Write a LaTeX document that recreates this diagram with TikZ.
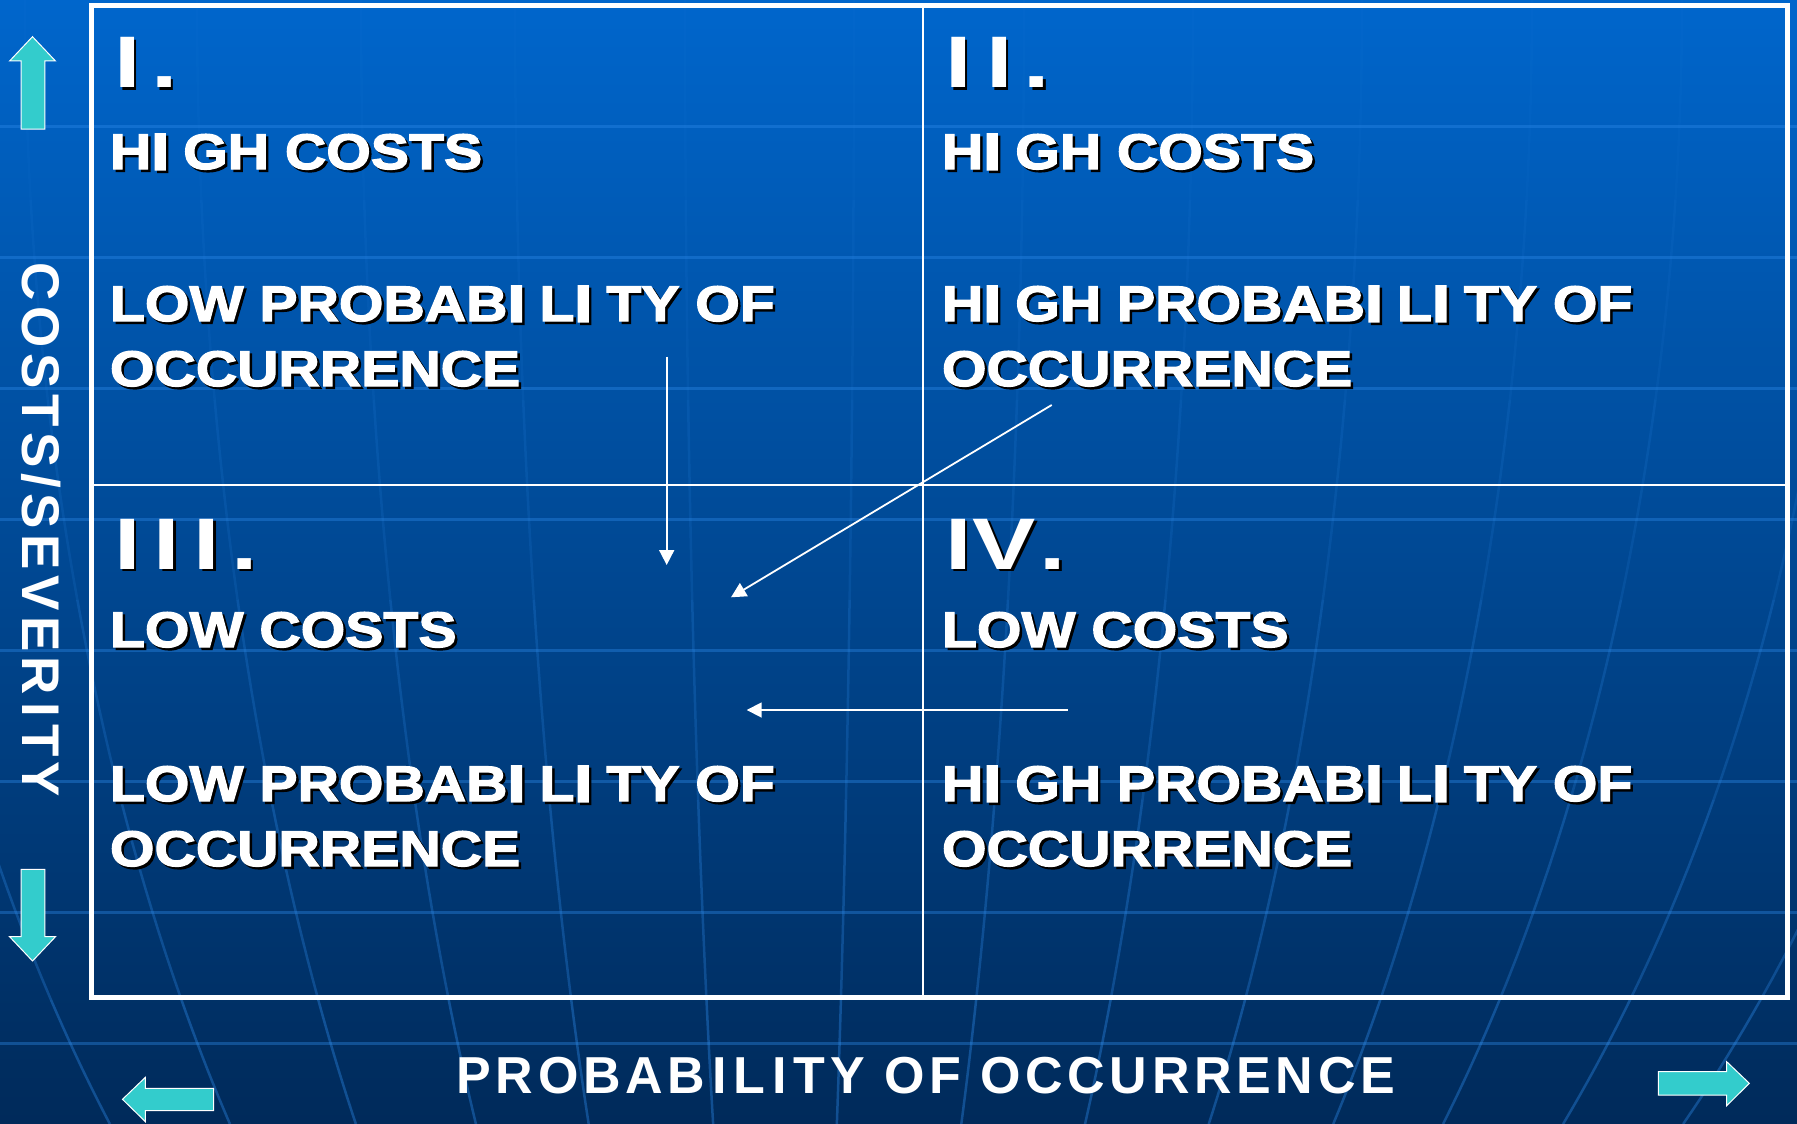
\documentclass[tikz,border=0pt]{standalone}
\usepackage{fontspec}
\usetikzlibrary{arrows.meta}
\newfontfamily\bodyfont{Liberation Sans}[UprightFont=* Bold, FakeStretch=1.145, FakeBold=2.5]
\newfontfamily\fatIfont{Liberation Sans}[UprightFont=* Bold, FakeStretch=1.145, FakeBold=6]
\newfontfamily\numfont{Liberation Sans}[UprightFont=* Bold, FakeStretch=1.3]
\newfontfamily\axisfont{Liberation Sans}[UprightFont=* Bold, LetterSpace=9]
\newfontfamily\axisfontv{Liberation Sans}[UprightFont=* Bold, LetterSpace=10.5]
\definecolor{bgtop}{HTML}{0066CC}
\definecolor{bgbottom}{HTML}{002A5A}
\definecolor{gridblue}{HTML}{2E8BEA}
\definecolor{arrowcyan}{HTML}{33CCCC}
\newcommand\bI{\kern 1pt{\fatIfont I}\kern 15pt\relax}
\newcommand\aI{\kern 7pt I\kern 7pt\relax}
\newcommand\shadowtext[5]{%
  \node[#1, text=black] (#2s) at (#3+2.5,#4+2.5) {#5};
  \node[#1] (#2) at (#3,#4) {#5};}
\tikzset{
  txt/.style={anchor=base west, inner sep=0pt, outer sep=0pt, text=white},
  body/.style={txt, font=\bodyfont\fontsize{50}{60}\selectfont},
  num/.style={txt, font=\numfont\fontsize{73}{80}\selectfont},
  axis/.style={anchor=base, inner sep=0pt, outer sep=0pt, text=white},
  thinarrow/.style={draw=white, line width=1.8pt, -{Triangle[length=15pt,width=15pt]}},
  blockarrow/.style={fill=arrowcyan, draw=white, line width=1pt, line join=miter},
  gridline/.style={draw=gridblue, line width=3pt, opacity=0.38},
  meridian/.style={draw=gridblue, line width=2.5pt},
  frame/.style={draw=white, line width=5pt},
  divider/.style={draw=white, line width=2pt},
}
\begin{document}
\begin{tikzpicture}[x=1pt,y=-1pt]
\useasboundingbox (0,0) rectangle (1797,1124);
\begin{scope}
\clip (0,0) rectangle (1797,1124);
\shade[top color=bgtop, bottom color=bgbottom] (0,0) rectangle (1797,1124);
% horizontal grid lines
\foreach \gy in {126.7,257.7,388.7,519.7,650.7,781.7,912.7,1043.7}
  \draw[gridline] (0,\gy) -- (1797,\gy);
% meridians of the globe
\foreach \o in {-929,-765,-593,-429,-275,-105,64,234,403,572,742,892,1056,1220} {
  \foreach \ya/\yb/\op in {0/200/0.05,200/400/0.09,400/600/0.15,600/800/0.23,800/1000/0.31,1000/1124/0.38} {
    \draw[meridian, opacity=\op] plot[domain=\ya:\yb, samples=10, variable=\t]
      ({790+\o*sqrt(1-(\t/1650)^2)}, {\t});
  }
}
\end{scope}
% frame and dividers
\draw[frame] (91,6) rectangle (1787.5,997.5);
\coordinate (vtop) at (922.7,6);
\coordinate (vbot) at (922.7,997.5);
\coordinate (hleft) at (91,485);
\coordinate (hright) at (1787.5,485);
\draw[divider] (vtop) -- (vbot);
\draw[divider] (hleft) -- (hright);
% thin arrows
\coordinate (a1s) at (666.7,356.7);
\coordinate (a1e) at (666.7,565);
\coordinate (a2s) at (1051.7,405);
\coordinate (a2e) at (731,597.3);
\coordinate (a3s) at (1067.7,710);
\coordinate (a3e) at (746.7,710);
\draw[thinarrow] (a1s) -- (a1e);
\draw[thinarrow] (a2s) -- (a2e);
\draw[thinarrow] (a3s) -- (a3e);
% quadrant I
\shadowtext{num}{n1}{114}{88}{I\kern 11pt.}
\shadowtext{body}{q1a}{110}{169}{H\bI GH COSTS}
\shadowtext{body}{q1b}{110}{321}{LOW PROBAB\bI L\bI TY OF}
\shadowtext{body}{q1c}{110}{386}{OCCURRENCE}
% quadrant II
\shadowtext{num}{n2}{945}{88}{I\kern 15pt I\kern 11pt.}
\shadowtext{body}{q2a}{942}{169}{H\bI GH COSTS}
\shadowtext{body}{q2b}{942}{321}{H\bI GH PROBAB\bI L\bI TY OF}
\shadowtext{body}{q2c}{942}{386}{OCCURRENCE}
% quadrant III
\shadowtext{num}{n3}{114}{569}{I\kern 13.6pt I\kern 13.6pt I\kern 11pt.}
\shadowtext{body}{q3a}{110}{647}{LOW COSTS}
\shadowtext{body}{q3b}{110}{801}{LOW PROBAB\bI L\bI TY OF}
\shadowtext{body}{q3c}{110}{866}{OCCURRENCE}
% quadrant IV
\shadowtext{num}{n4}{945}{569}{I\kern 1.5pt V\kern 3.5pt.}
\shadowtext{body}{q4a}{942}{647}{LOW COSTS}
\shadowtext{body}{q4b}{942}{801}{H\bI GH PROBAB\bI L\bI TY OF}
\shadowtext{body}{q4c}{942}{866}{OCCURRENCE}
% axis labels
\node[axis, font=\axisfont\fontsize{52}{60}\selectfont] (xlabel) at (925.8,1093) {PROBAB\aI L\aI TY OF OCCURRENCE};
\node[axis, rotate=-90, font=\axisfontv\fontsize{53}{60}\selectfont] (ylabel) at (23,530) {COSTS/SEVER\aI TY};
% block arrows
\draw[blockarrow] (32.5,36.7) -- (55.5,61) -- (44.8,61) -- (44.8,129) -- (21,129) -- (21,61) -- (9.6,61) -- cycle;
\draw[blockarrow] (21,869.3) -- (44.8,869.3) -- (44.8,936.7) -- (55.5,936.7) -- (32.5,961) -- (9.6,936.7) -- (21,936.7) -- cycle;
\draw[blockarrow] (122.5,1099.3) -- (145.4,1077.3) -- (145.4,1088.3) -- (213.5,1088.3) -- (213.5,1110.7) -- (145.4,1110.7) -- (145.4,1121.7) -- cycle;
\draw[blockarrow] (1658.3,1071.7) -- (1726.7,1071.7) -- (1726.7,1061.7) -- (1749.3,1083.3) -- (1726.7,1105.7) -- (1726.7,1095) -- (1658.3,1095) -- cycle;
\end{tikzpicture}
\end{document}
